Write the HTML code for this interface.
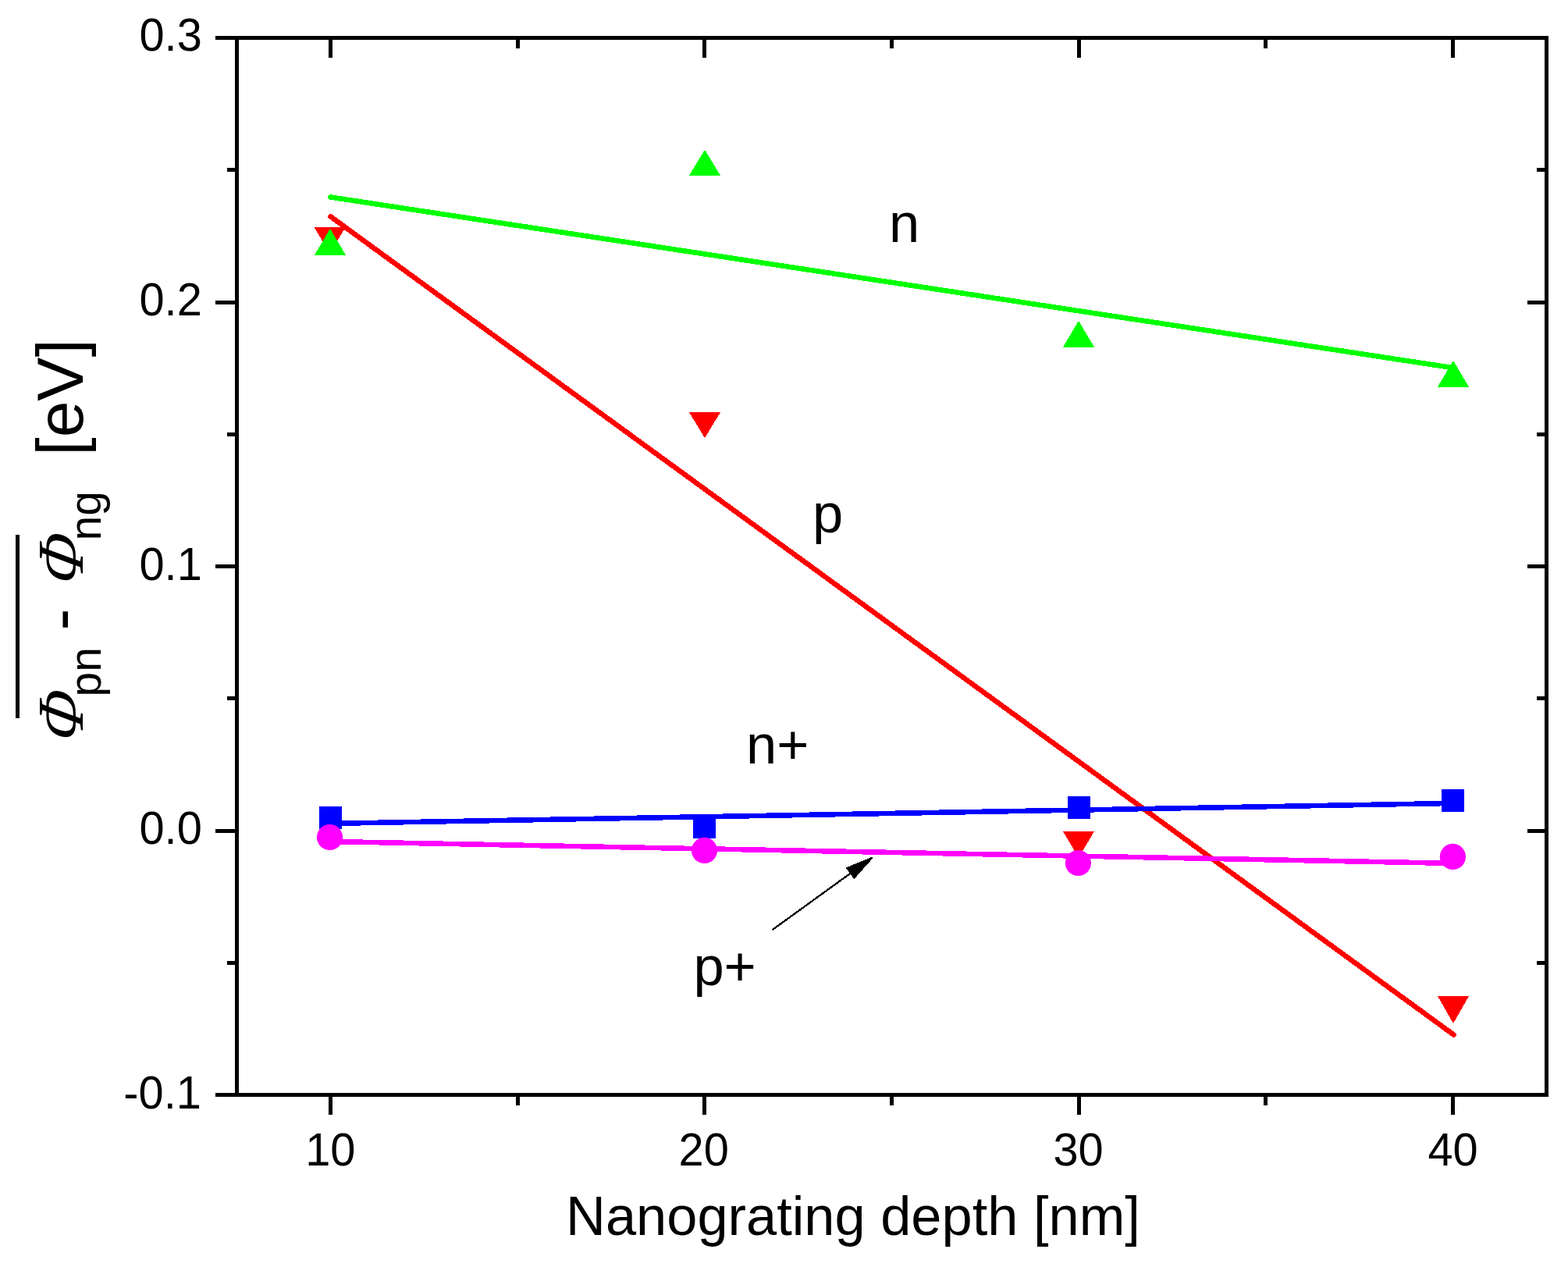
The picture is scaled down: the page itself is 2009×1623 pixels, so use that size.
<!DOCTYPE html><html><head><meta charset="utf-8"><title>Nanograting depth plot</title><style>
html,body{margin:0;padding:0;background:#ffffff;}svg{display:block;}
.t{font-family:"Liberation Sans",Arial,sans-serif;fill:#000;}
.s{font-family:"Liberation Serif","Times New Roman",serif;font-style:italic;fill:#000;}
</style></head><body>
<svg width="2009" height="1623" viewBox="0 0 2009 1623">
<rect x="0" y="0" width="2009" height="1623" fill="#ffffff"/>
<g shape-rendering="crispEdges">
<polygon points="402.5,290.9 442.7,290.9 422.6,324.9" fill="#ff0000"/>
<polygon points="882.9,528.0 923.1,528.0 903.0,561.0" fill="#ff0000"/>
<polygon points="1361.9,1064.8 1402.1,1064.8 1382.0,1098.8" fill="#ff0000"/>
<polygon points="1841.9,1275.9 1882.1,1275.9 1862.0,1310.9" fill="#ff0000"/>
</g>
<line x1="423.4" y1="277.3" x2="1862.6" y2="1325.5" stroke="#ff0000" stroke-width="6.60" stroke-linecap="round" shape-rendering="crispEdges"/>
<line x1="423.4" y1="1054.9" x2="1862.0" y2="1028.9" stroke="#0000ff" stroke-width="6.60" stroke-linecap="round" shape-rendering="crispEdges"/>
<g shape-rendering="crispEdges">
<rect x="408.9" y="1032.9" width="29.0" height="29.0" fill="#0000ff"/>
<rect x="888.0" y="1044.9" width="29.0" height="29.0" fill="#0000ff"/>
<rect x="1368.0" y="1019.8" width="29.0" height="29.0" fill="#0000ff"/>
<rect x="1847.0" y="1011.0" width="29.0" height="29.0" fill="#0000ff"/>
</g>
<line x1="423.4" y1="1078.0" x2="1862.0" y2="1105.9" stroke="#ff00ff" stroke-width="6.60" stroke-linecap="round" shape-rendering="crispEdges"/>
<circle cx="422.5" cy="1072.5" r="16.6" fill="#ff00ff"/>
<circle cx="902.5" cy="1089.4" r="16.6" fill="#ff00ff"/>
<circle cx="1381.4" cy="1105.5" r="16.6" fill="#ff00ff"/>
<circle cx="1861.4" cy="1097.4" r="16.6" fill="#ff00ff"/>
<line x1="423.4" y1="252.5" x2="1862.0" y2="471.2" stroke="#00ff00" stroke-width="6.60" stroke-linecap="round" shape-rendering="crispEdges"/>
<g shape-rendering="crispEdges">
<polygon points="423.0,292.9 443.1,326.9 402.9,326.9" fill="#00ff00"/>
<polygon points="903.0,191.8 923.1,224.8 882.9,224.8" fill="#00ff00"/>
<polygon points="1382.0,410.8 1402.1,444.8 1361.9,444.8" fill="#00ff00"/>
<polygon points="1862.0,461.8 1882.1,495.8 1841.9,495.8" fill="#00ff00"/>
</g>
<g stroke="#000" stroke-width="5" fill="none" shape-rendering="crispEdges">
<rect x="303.5" y="48.5" width="1678.0" height="1354.0"/>
<line x1="423.4" y1="1402.5" x2="423.4" y2="1428.0"/>
<line x1="423.4" y1="48.5" x2="423.4" y2="74.0"/>
<line x1="902.8" y1="1402.5" x2="902.8" y2="1428.0"/>
<line x1="902.8" y1="48.5" x2="902.8" y2="74.0"/>
<line x1="1382.2" y1="1402.5" x2="1382.2" y2="1428.0"/>
<line x1="1382.2" y1="48.5" x2="1382.2" y2="74.0"/>
<line x1="1861.6" y1="1402.5" x2="1861.6" y2="1428.0"/>
<line x1="1861.6" y1="48.5" x2="1861.6" y2="74.0"/>
<line x1="663.1" y1="1402.5" x2="663.1" y2="1415.5"/>
<line x1="663.1" y1="48.5" x2="663.1" y2="61.5"/>
<line x1="1142.5" y1="1402.5" x2="1142.5" y2="1415.5"/>
<line x1="1142.5" y1="48.5" x2="1142.5" y2="61.5"/>
<line x1="1621.9" y1="1402.5" x2="1621.9" y2="1415.5"/>
<line x1="1621.9" y1="48.5" x2="1621.9" y2="61.5"/>
<line x1="276.0" y1="48.5" x2="303.5" y2="48.5"/>
<line x1="1981.5" y1="48.5" x2="1956.5" y2="48.5"/>
<line x1="276.0" y1="387.0" x2="303.5" y2="387.0"/>
<line x1="1981.5" y1="387.0" x2="1956.5" y2="387.0"/>
<line x1="276.0" y1="725.5" x2="303.5" y2="725.5"/>
<line x1="1981.5" y1="725.5" x2="1956.5" y2="725.5"/>
<line x1="276.0" y1="1064.0" x2="303.5" y2="1064.0"/>
<line x1="1981.5" y1="1064.0" x2="1956.5" y2="1064.0"/>
<line x1="276.0" y1="1402.5" x2="303.5" y2="1402.5"/>
<line x1="1981.5" y1="1402.5" x2="1956.5" y2="1402.5"/>
<line x1="290.5" y1="217.7" x2="303.5" y2="217.7"/>
<line x1="1981.5" y1="217.7" x2="1968.5" y2="217.7"/>
<line x1="290.5" y1="556.2" x2="303.5" y2="556.2"/>
<line x1="1981.5" y1="556.2" x2="1968.5" y2="556.2"/>
<line x1="290.5" y1="894.8" x2="303.5" y2="894.8"/>
<line x1="1981.5" y1="894.8" x2="1968.5" y2="894.8"/>
<line x1="290.5" y1="1233.2" x2="303.5" y2="1233.2"/>
<line x1="1981.5" y1="1233.2" x2="1968.5" y2="1233.2"/>
</g>
<text class="t" font-size="57.8" text-anchor="start" transform="translate(178.44 65.40) scale(1 1.033)">0.3</text>
<text class="t" font-size="57.8" text-anchor="start" transform="translate(178.44 404.20) scale(1 1.033)">0.2</text>
<text class="t" font-size="57.8" text-anchor="start" transform="translate(178.44 743.00) scale(1 1.033)">0.1</text>
<text class="t" font-size="57.8" text-anchor="start" transform="translate(178.44 1081.40) scale(1 1.033)">0.0</text>
<text class="t" font-size="57.8" text-anchor="start" transform="translate(158.33 1420.20) scale(1 1.033)">-0.1</text>
<text class="t" font-size="57.8" text-anchor="start" transform="translate(391.18 1492.70) scale(1 1.033)">10</text>
<text class="t" font-size="57.8" text-anchor="start" transform="translate(869.53 1492.70) scale(1 1.033)">20</text>
<text class="t" font-size="57.8" text-anchor="start" transform="translate(1349.48 1492.70) scale(1 1.033)">30</text>
<text class="t" font-size="57.8" text-anchor="start" transform="translate(1829.47 1492.70) scale(1 1.033)">40</text>
<text class="t" font-size="70.4" transform="translate(725.12 1581.90) scale(1 1.01)">Nanograting depth [nm]</text>
<text class="s" font-size="84.0" transform="translate(106.0 953.0) rotate(-90) skewX(-11)">&#934;</text>
<text class="t" font-size="57.0" transform="translate(129.0 892.5) rotate(-90)">pn</text>
<text class="t" font-size="84.0" transform="translate(106.0 807.5) rotate(-90)">-</text>
<text class="s" font-size="84.0" transform="translate(106.0 752.0) rotate(-90) skewX(-11)">&#934;</text>
<text class="t" font-size="57.0" transform="translate(129.0 692.5) rotate(-90)">ng</text>
<text class="t" font-size="84.0" transform="translate(106.0 583.7) rotate(-90)">[eV]</text>
<line x1="22.6" y1="684.5" x2="22.6" y2="919.5" stroke="#000" stroke-width="5" shape-rendering="crispEdges"/>
<text class="t" x="1139.0" y="309.9" font-size="70.5">n</text>
<text class="t" x="1041.0" y="681.8" font-size="70.5">p</text>
<text class="t" x="956.0" y="977.8" font-size="70.5">n+</text>
<text class="t" x="888.4" y="1262.3" font-size="70.5">p+</text>
<line x1="989.7" y1="1191" x2="1092" y2="1117" stroke="#000" stroke-width="2.3" shape-rendering="crispEdges"/>
<polygon points="1117.4,1098.8 1085.3,1111.9 1094.3,1124.6" fill="#000" stroke="#000" stroke-width="2" stroke-linejoin="round" shape-rendering="crispEdges"/>
</svg></body></html>
